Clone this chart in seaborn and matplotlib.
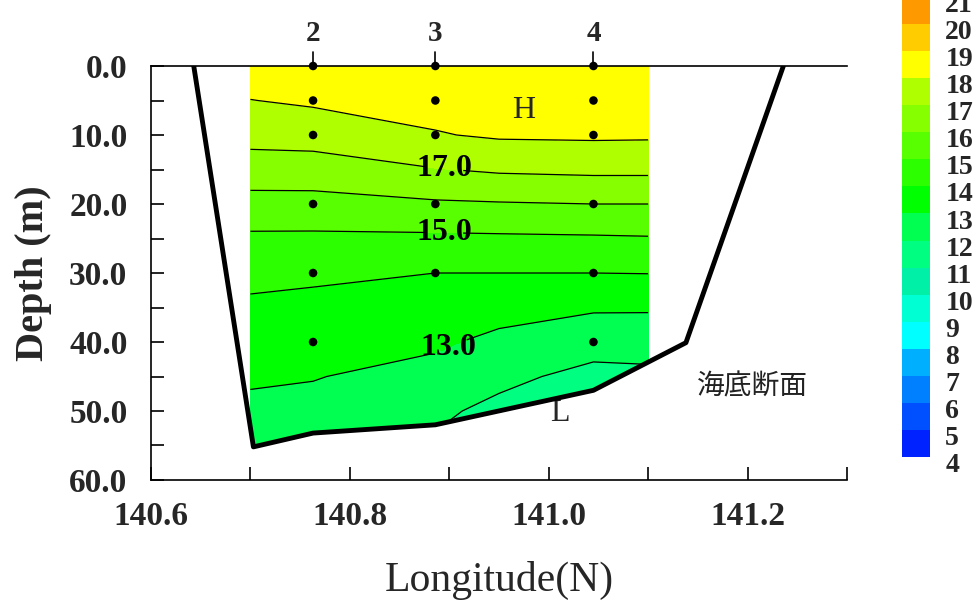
import numpy as np
import pandas as pd
import matplotlib
matplotlib.use("Agg")
import matplotlib.pyplot as plt
import matplotlib.transforms as mtransforms
import seaborn as sns
from matplotlib.colors import ListedColormap, BoundaryNorm
from matplotlib.patches import Polygon

# temperature section (columns = longitude, rows = depth)
grid_lon = [140.70, 140.763, 140.886, 140.95, 141.045, 141.10]
grid_depth = [0, 5, 10, 15, 20, 25, 30, 35, 40, 45, 50, 56]
temp_w_edge = [18.6, 17.98, 17.32, 16.55, 15.64, 14.83, 14.28, 13.82, 13.47, 13.12, 12.80, 12.55]
temp_st2 = [18.6, 18.15, 17.39, 16.56, 15.65, 14.82, 14.18, 13.74, 13.39, 13.04, 12.75, 12.50]
temp_st3 = [18.7, 18.36, 17.94, 16.96, 15.87, 14.82, 14.00, 13.57, 13.15, 12.68, 12.19, 11.80]
temp_mid = [18.75, 18.45, 18.12, 17.13, 15.93, 14.85, 14.00, 13.36, 12.77, 12.25, 11.74, 11.30]
temp_st4 = [18.8, 18.50, 18.15, 17.21, 16.00, 14.89, 14.00, 13.11, 12.41, 11.70, 11.30, 11.00]
temp_e_edge = [18.8, 18.48, 18.13, 17.21, 16.00, 14.93, 14.02, 13.11, 12.37, 11.80, 11.40, 11.00]

# sea bottom profile
bottom_lon = [140.643, 140.703, 140.763, 140.886, 141.045, 141.138, 141.236]
bottom_depth = [0.0, 55.2, 53.2, 52.0, 47.0, 40.1, 0.0]

# stations and sampling depths
station_names = ["2", "3", "4"]
station_lon = [140.763, 140.886, 141.045]
st2_depths = [0, 5, 10, 20, 30, 40]
st3_depths = [0, 5, 10, 20, 30]
st4_depths = [0, 5, 10, 20, 30, 40]

levels = list(range(4, 22))
label_levels = [13, 15, 17]
level_colors = ["#0022ff", "#0050ff", "#0080ff", "#00b0ff", "#00ffff", "#00ffd2",
                "#00f0a8", "#00ff80", "#00ff50", "#00ff00", "#2cff00", "#58ff00",
                "#86ff00", "#b0ff00", "#ffff00", "#ffcc00", "#ff9900"]


def main():
    sns.set_theme(style="white")
    plt.rcParams["font.family"] = ["Liberation Serif", "Noto Sans CJK JP"]

    fig = plt.figure(figsize=(9.79, 6.10), dpi=100)
    ax = fig.add_axes([151 / 979, 1 - 480 / 610, 696 / 979, 414 / 610])

    Z = np.column_stack([temp_w_edge, temp_st2, temp_st3, temp_mid, temp_st4, temp_e_edge])
    X, Y = np.meshgrid(grid_lon, grid_depth)
    cmap = ListedColormap(level_colors)
    norm = BoundaryNorm(levels, cmap.N)

    cs = ax.contourf(X, Y, Z, levels=levels, cmap=cmap, norm=norm)
    plain = [lv for lv in levels if lv not in label_levels]
    cl = ax.contour(X, Y, Z, levels=plain, colors="black", linewidths=0.9)
    cl_lab = ax.contour(X, Y, Z, levels=label_levels, colors="black", linewidths=0.9)

    # keep the field above the sea bottom
    water = Polygon(np.column_stack([bottom_lon, bottom_depth]), closed=True,
                    transform=ax.transData, facecolor="none", edgecolor="none")
    for c in (cs, cl, cl_lab):
        c.set_clip_path(water)

    labels = ax.clabel(cl_lab, fmt="%.1f", inline=True, fontsize=23,
                       manual=[(140.895, 15.5), (140.895, 24.0), (140.90, 41.5)])
    for t in labels:
        t.set_fontweight("bold")
        t.set_rotation(0)

    sns.lineplot(x=bottom_lon, y=bottom_depth, sort=False, color="black",
                 linewidth=3.5, ax=ax, zorder=6)

    samples = pd.DataFrame({
        "lon": [station_lon[0]] * len(st2_depths) + [station_lon[1]] * len(st3_depths)
               + [station_lon[2]] * len(st4_depths),
        "depth": st2_depths + st3_depths + st4_depths,
    })
    sns.scatterplot(data=samples, x="lon", y="depth", color="black", s=38,
                    edgecolor="none", ax=ax, zorder=7, clip_on=False)

    for name, lon in zip(station_names, station_lon):
        ax.plot([lon, lon], [0, -2.0], color="black", lw=1.2, clip_on=False)
        ax.text(lon, -4.7, name, ha="center", va="center", fontsize=21,
                fontweight="bold")

    ax.text(140.975, 6.4, "H", ha="center", va="center", fontsize=23)
    ax.text(141.011, 50.3, "L", ha="center", va="center", fontsize=23)
    ax.text(141.205, 46.4, "海底断面", ha="center", va="center", fontsize=20,
            family=["Noto Sans CJK JP"], color="#222222")

    ax.set_xlim(140.6, 141.3)
    ax.set_ylim(60, 0)
    xt = np.round(np.arange(140.6, 141.31, 0.1), 1)
    ax.set_xticks(xt, [f"{v:.1f}" if i % 2 == 0 and v < 141.25 else "" for i, v in enumerate(xt)])
    yt = np.arange(0, 61, 5)
    ax.set_yticks(yt, [f"{v:.1f}" if v % 10 == 0 else "" for v in yt])
    ax.tick_params(axis="both", direction="in", length=9.5, width=1.2, color="black",
                   labelsize=24, bottom=True, left=True, top=False, right=False)
    ax.tick_params(axis="x", pad=15)
    ax.tick_params(axis="y", pad=17)
    for t in ax.get_xticklabels() + ax.get_yticklabels():
        t.set_fontweight("bold")

    for side in ["left", "bottom", "top"]:
        ax.spines[side].set_color("black")
        ax.spines[side].set_linewidth(1.2)
    ax.spines["right"].set_visible(False)
    ax.set_facecolor("white")
    ax.grid(False)

    ax.set_xlabel("Longitude(N)", fontsize=30, va="top")
    ax.xaxis.set_label_coords(0.5, -0.196)
    ax.set_ylabel("Depth (m)", fontsize=29, fontweight="bold")
    ax.yaxis.set_label_coords(-0.142, 0.5)

    cax = fig.add_axes([902 / 979, 1 - 457 / 610, 28 / 979, 460 / 610])
    cb = fig.colorbar(cs, cax=cax, ticks=levels)
    cb.outline.set_visible(False)
    cax.tick_params(length=0, pad=11, labelsize=20)
    # labels sit a little below each class boundary, as in the original
    shift = mtransforms.ScaledTranslation(0, -4 / 72, fig.dpi_scale_trans)
    for t in cax.get_yticklabels():
        t.set_fontweight("bold")
        t.set_transform(t.get_transform() + shift)

    fig.savefig("out.png", dpi=100)


if __name__ == "__main__":
    main()
